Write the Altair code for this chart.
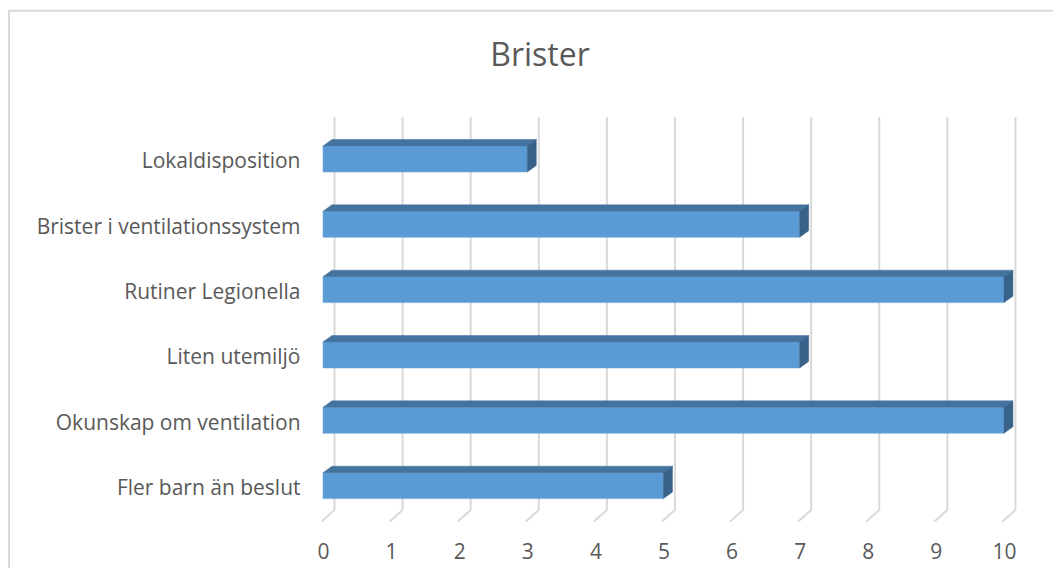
import json
import altair as alt
import pandas as pd

# ---- data ----
categories = ["Lokaldisposition", "Brister i ventilationssystem", "Rutiner Legionella",
              "Liten utemiljö", "Okunskap om ventilation", "Fler barn än beslut"]
values = [3, 7, 10, 7, 10, 5]
x_ticks = list(range(0, 11))
title_text = ["Brister"]

# ---- style constants ----
PX_X = 68.1          # px per x unit
PX_Y = 65.4          # px per category
W = 715
H = 392
HALF = 13 / PX_Y     # half bar thickness
BDX = 9 / PX_X       # bar depth (x)
BDY = 6.5 / PX_Y     # bar depth (y)
WDX = 11.5 / PX_X    # wall depth (x)
GRID_TOP = -0.5 - 9.3 / PX_Y
GRID_BOT = 5.5 - 8.3 / PX_Y
FLOOR_FRONT = 5.5 + 3.2 / PX_Y
FLOOR_DX = -1.5 / PX_X

FONT = "Open Sans"
TXT = "#595959"
GRID = "#d9d9d9"
FRONT = "#5B9BD5"
TOP = "#44739F"
SIDE = "#38628A"

xscale = alt.Scale(domain=[0, 10.5], nice=False, zero=False)
yscale = alt.Scale(domain=[-0.5, 5.5], nice=False, zero=False, reverse=True)

idx = list(range(len(categories)))

front_df = pd.DataFrame({
    "cat": categories,
    "base": [0] * len(values),
    "value": values,
    "y0": [i - HALF for i in idx],
    "y1": [i + HALF for i in idx],
})

top_rows, side_rows = [], []
for i, (c, v) in enumerate(zip(categories, values)):
    top_rows.append({"cat": c, "ty": i - HALF, "tx": 0, "tx2": v})
    top_rows.append({"cat": c, "ty": i - HALF - BDY, "tx": BDX, "tx2": v + BDX})
    side_rows.append({"cat": c, "rx": v, "ry": i - HALF, "ry2": i + HALF})
    side_rows.append({"cat": c, "rx": v + BDX, "ry": i - HALF - BDY, "ry2": i + HALF - BDY})
top_df = pd.DataFrame(top_rows)
side_df = pd.DataFrame(side_rows)

grid_df = pd.DataFrame({
    "t": x_ticks,
    "gx": [t + WDX for t in x_ticks],
    "fx": [t + FLOOR_DX for t in x_ticks],
    "gt": [GRID_TOP] * len(x_ticks),
    "gb": [GRID_BOT] * len(x_ticks),
    "ff": [FLOOR_FRONT] * len(x_ticks),
})

label_expr = json.dumps(categories, ensure_ascii=False) + "[datum.value]"

front = alt.Chart(front_df).mark_rect(color=FRONT, stroke="#6FA8DC", strokeWidth=0.6).encode(
    x=alt.X("base:Q", scale=xscale, title=None,
            axis=alt.Axis(values=x_ticks, format="d", labelPadding=23, labelFlush=False)),
    x2="value:Q",
    y=alt.Y("y0:Q", scale=yscale, title=None,
            axis=alt.Axis(values=idx, labelExpr=label_expr, labelPadding=23, labelLimit=500,
                          labelOffset=3)),
    y2="y1:Q",
)

grid_v = alt.Chart(grid_df).mark_rule(color=GRID, strokeWidth=2).encode(
    x=alt.X("gx:Q", scale=xscale, title=None),
    y=alt.Y("gt:Q", scale=yscale, title=None),
    y2="gb:Q",
)
grid_d = alt.Chart(grid_df).mark_rule(color=GRID, strokeWidth=2).encode(
    x=alt.X("gx:Q", scale=xscale, title=None),
    y=alt.Y("gb:Q", scale=yscale, title=None),
    x2="fx:Q",
    y2="ff:Q",
)

top = alt.Chart(top_df).mark_area(orient="horizontal", color=TOP, stroke=TOP, strokeWidth=0.5).encode(
    y=alt.Y("ty:Q", scale=yscale, title=None),
    x=alt.X("tx:Q", scale=xscale, title=None),
    x2="tx2:Q",
    detail="cat:N",
)

side = alt.Chart(side_df).mark_area(orient="vertical", color=SIDE, stroke=SIDE, strokeWidth=0.5).encode(
    x=alt.X("rx:Q", scale=xscale, title=None),
    y=alt.Y("ry:Q", scale=yscale, title=None),
    y2="ry2:Q",
    detail="cat:N",
)

border = alt.Chart(pd.DataFrame({"a": [0]})).mark_rect(
    filled=False, stroke=GRID, strokeWidth=2, fillOpacity=0
).encode(
    x=alt.value(-314), y=alt.value(-115.5), x2=alt.value(3000), y2=alt.value(3000)
)

title = alt.Chart(pd.DataFrame({"t": title_text})).mark_text(
    font=FONT, fontSize=32, color=TXT, align="center", baseline="alphabetic"
).encode(text="t:N", x=alt.value(217), y=alt.value(-60))

chart = alt.layer(border, grid_v, grid_d, front, top, side, title).properties(
    width=W,
    height=H,
    autosize="none",
    padding={"left": 315, "top": 118.3, "right": 15, "bottom": 50},
).configure(background="white").configure_view(
    strokeWidth=0, stroke="transparent"
).configure_axis(
    domain=False, ticks=False, grid=False, labelFont=FONT, labelFontSize=21, labelColor=TXT
)

chart.save("out.html", embed_options={"renderer": "svg", "actions": False})
